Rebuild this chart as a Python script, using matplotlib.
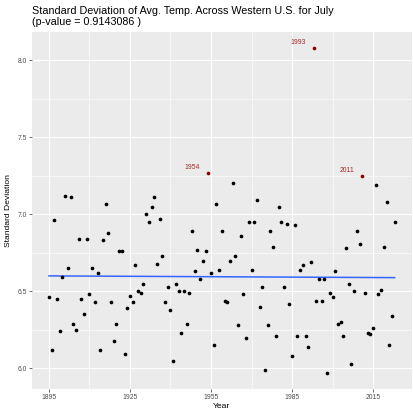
import numpy as np
import matplotlib
matplotlib.use("Agg")
import matplotlib.pyplot as plt

plt.rcParams['font.family'] = ['Liberation Sans', 'DejaVu Sans']

# July std dev of avg temp, one value per year
years = np.arange(1895, 2024)
std_dev = [
    6.46, 6.12, 6.96, 6.45, 6.24, 6.59, 7.12, 6.65, 7.11, 6.29,  # 1895-1904
    6.25, 6.84, 6.45, 6.35, 6.84, 6.48, 6.65, 6.43, 6.62, 6.12,  # 1905-1914
    6.83, 7.07, 6.88, 6.43, 6.18, 6.29, 6.76, 6.76, 6.09, 6.39,  # 1915-1924
    6.47, 6.43, 6.67, 6.50, 6.49, 6.55, 7.00, 6.95, 7.05, 7.11,  # 1925-1934
    6.68, 6.97, 6.73, 6.43, 6.53, 6.38, 6.05, 6.55, 6.50, 6.23,  # 1935-1944
    6.50, 6.29, 6.49, 6.89, 6.63, 6.77, 6.58, 6.70, 6.76, 7.27,  # 1945-1954
    6.62, 6.15, 7.07, 6.64, 6.89, 6.44, 6.43, 6.70, 7.20, 6.73,  # 1955-1964
    6.28, 6.86, 6.48, 6.20, 6.95, 6.64, 6.95, 7.09, 6.40, 6.53,  # 1965-1974
    5.99, 6.28, 6.89, 6.79, 6.21, 7.05, 6.95, 6.53, 6.94, 6.42,  # 1975-1984
    6.08, 6.93, 6.21, 6.64, 6.67, 6.21, 6.14, 6.69, 8.08, 6.44,  # 1985-1994
    6.58, 6.44, 6.58, 5.97, 6.49, 6.46, 6.63, 6.29, 6.30, 6.21,  # 1995-2004
    6.78, 6.55, 6.03, 6.50, 6.89, 6.81, 7.25, 6.49, 6.23, 6.22,  # 2005-2014
    6.26, 7.19, 6.48, 6.51, 6.79, 7.08, 6.15, 6.34, 6.95,        # 2015-2023
]
highlight_years = [1954, 1993, 2011]

x_ticks = [1895, 1925, 1955, 1985, 2015]
y_ticks = [6.0, 6.5, 7.0, 7.5, 8.0]

vals = np.array(std_dev)
is_hl = np.isin(years, highlight_years)

W, H = 413, 415
fig = plt.figure(figsize=(W / 100, H / 100), dpi=100)
ax = fig.add_axes([31.7 / W, 1 - 389.2 / H, (411.9 - 31.7) / W, (389.2 - 31.7) / H])

ax.set_facecolor('#EBEBEB')
for s in ax.spines.values():
    s.set_visible(False)

# ggplot-like expansion
xr = years.max() - years.min()
yr = vals.max() - vals.min()
ax.set_xlim(years.min() - 0.05 * xr, years.max() + 0.05 * xr)
ax.set_ylim(vals.min() - 0.05 * yr, vals.max() + 0.05 * yr)

ax.set_xticks(x_ticks)
ax.set_yticks(y_ticks)
ax.set_xticks([1910, 1940, 1970, 2000], minor=True)
ax.set_yticks([6.25, 6.75, 7.25, 7.75], minor=True)
ax.set_yticklabels([f"{v:.1f}" for v in y_ticks])
ax.grid(which='major', color='white', linewidth=0.8)
ax.grid(which='minor', color='white', linewidth=0.4)
ax.set_axisbelow(True)
ax.tick_params(which='major', length=2, width=0.5, color='#333333',
               labelcolor='#4D4D4D', labelsize=4.9, pad=1.5)
ax.tick_params(which='minor', length=0)

ax.scatter(years[~is_hl], vals[~is_hl], s=7, color='black', zorder=3, linewidths=0)
ax.scatter(years[is_hl], vals[is_hl], s=7, color='darkred', zorder=3, linewidths=0)
for yy, vv in zip(years[is_hl], vals[is_hl]):
    ax.annotate(str(yy), (yy, vv), xytext=(-5.8, 1.5), textcoords='offset points',
                ha='right', va='bottom', fontsize=4.9, color='#A52A2A')

# linear trend
slope, icpt = np.polyfit(years, vals, 1)
ax.plot(years, slope * years + icpt, color='#3366FF', linewidth=1.1, zorder=2)

ax.set_xlabel('Year', fontsize=6.1, labelpad=1.5)
ax.set_ylabel('Standard Deviation', fontsize=6.1, labelpad=4)

fig.text(31.7 / W, 1 - 6 / H,
         'Standard Deviation of Avg. Temp. Across Western U.S. for July\n(p-value = 0.9143086 )',
         ha='left', va='top', fontsize=7.75, linespacing=1.12)

fig.savefig('out.png', dpi=100, facecolor='white')
